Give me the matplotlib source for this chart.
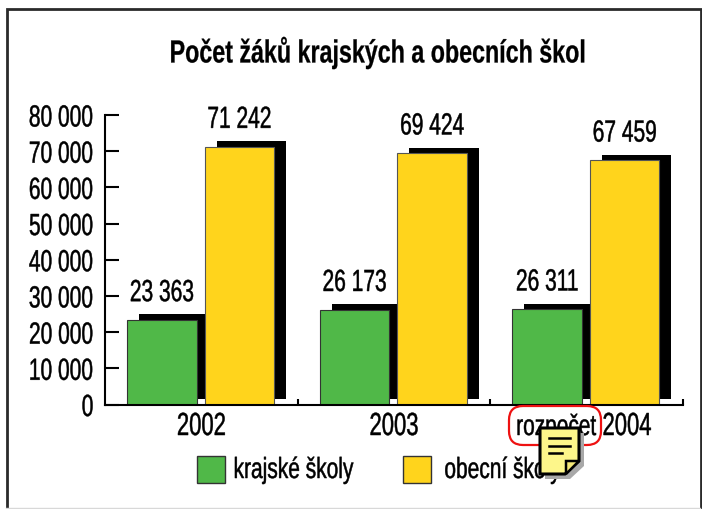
import matplotlib
matplotlib.use("Agg")
from matplotlib import pyplot as plt
from matplotlib.patches import FancyBboxPatch, Polygon, Rectangle
from matplotlib.patheffects import AbstractPathEffect
from matplotlib.transforms import Affine2D, ScaledTranslation

plt.rcParams['font.family'] = ['Liberation Sans', 'DejaVu Sans']

years = ["2002", "2003", "2004"]
kraje = [23363, 26173, 26311]
obce = [71242, 69424, 67459]
kraje_labels = ["23 363", "26 173", "26 311"]
obce_labels = ["71 242", "69 424", "67 459"]
y_ticks = [0, 10000, 20000, 30000, 40000, 50000, 60000, 70000, 80000]
y_labels = ["0", "10 000", "20 000", "30 000", "40 000", "50 000", "60 000", "70 000", "80 000"]

GREEN = "#50b848"
YELLOW = "#ffd41c"
W, H = 702, 509


# no condensed font installed, so squeeze the glyphs sideways when drawing
class Narrow(AbstractPathEffect):
    def __init__(self, sx, anchor="center", weight=0.35):
        super().__init__()
        self.sx = sx
        self.anchor = anchor
        self.weight = weight

    def draw_path(self, renderer, gc, tpath, affine, rgbFace=None):
        ext = tpath.get_extents()
        x0 = {"left": ext.x0, "center": (ext.x0 + ext.x1) / 2, "right": ext.x1}[self.anchor]
        squeeze = Affine2D().translate(-x0, 0).scale(self.sx, 1).translate(x0, 0)
        gc0 = renderer.new_gc()
        gc0.copy_properties(gc)
        gc0.set_foreground("black")
        gc0.set_linewidth(self.weight)
        renderer.draw_path(gc0, tpath, squeeze + affine, rgbFace)
        gc0.restore()


fig = plt.figure(figsize=(W / 100, H / 100), dpi=100, facecolor="white")

# overlay in pixel coords for the frame, note etc.
bg = fig.add_axes([0, 0, 1, 1], zorder=0)
bg.set_xlim(0, W)
bg.set_ylim(H, 0)
bg.axis("off")
bg.plot([6.5, 6.5, 700.5, 700.5], [509, 8.5, 8.5, 509], color="#2a2a2a", lw=2, solid_joinstyle="miter")
bg.plot([6, 700], [508, 508], color="#d8d8d8", lw=1)

ax = fig.add_axes([105 / W, 1 - 404.5 / H, 578 / W, 289.5 / H], zorder=1)
ax.patch.set_alpha(0)
ax.set_xlim(0, 3)
ax.set_ylim(0, 80000)

x1 = [i + 0.295 for i in range(3)]
x2 = [i + 0.697 for i in range(3)]
bw = 0.36

# black offset shadows behind the bars
shift = ax.transData + ScaledTranslation(8.6 / 72, 4 / 72, fig.dpi_scale_trans)
for x, v in zip(x1 + x2, kraje + obce):
    r = ax.bar(x, v, bw, color="black", zorder=1)[0]
    r.set_transform(shift)
    r.set_clip_on(False)

ax.bar(x1, kraje, bw, color=GREEN, edgecolor="#333333", lw=0.8, zorder=2)
ax.bar(x2, obce, bw, color=YELLOW, edgecolor="#555555", lw=0.8, zorder=2)

for x, v, s in zip(x1 + x2, kraje + obce, kraje_labels + obce_labels):
    t = ax.annotate(s, (x, v), xytext=(0, 8.5), textcoords="offset points", ha="center",
                    va="bottom", fontsize=22, color="black")
    t.set_path_effects([Narrow(0.686)])

for s in ["top", "right"]:
    ax.spines[s].set_visible(False)
ax.spines["left"].set_linewidth(1.5)
ax.spines["bottom"].set_linewidth(1.5)
ax.set_yticks(y_ticks)
ax.set_yticklabels(y_labels, fontsize=22)
for t in ax.get_yticklabels():
    t.set_path_effects([Narrow(0.686, "right")])
ax.tick_params(axis="y", direction="in", length=10, width=1.5, pad=8)
ax.set_xticks([1, 2, 3])
ax.set_xticklabels([])
ax.tick_params(axis="x", direction="in", length=4.3, width=1.5)

for cx, y in zip([201.5, 394, 627], years):
    t = bg.text(cx, 427, y, ha="center", va="center", fontsize=23)
    t.set_path_effects([Narrow(0.69)])
t = bg.text(556, 427, "rozpočet", ha="center", va="center", fontsize=21)
t.set_path_effects([Narrow(0.715)])

t = bg.text(378, 53, "Počet žáků krajských a obecních škol", ha="center", va="center",
            fontsize=23, fontweight="bold")
t.set_path_effects([Narrow(0.728, weight=0.2)])

# legend
bg.add_patch(Rectangle((197, 456), 28, 27, fc=GREEN, ec="#333333", lw=1))
t = bg.text(233, 470, "krajské školy", ha="left", va="center", fontsize=21)
t.set_path_effects([Narrow(0.718, "left")])
bg.add_patch(Rectangle((403, 456), 28, 27, fc=YELLOW, ec="#333333", lw=1))
t = bg.text(444, 470, "obecní školy", ha="left", va="center", fontsize=21)
t.set_path_effects([Narrow(0.718, "left")])

# red ring around "rozpočet"
top = fig.add_axes([0, 0, 1, 1], zorder=3)
top.set_xlim(0, W)
top.set_ylim(H, 0)
top.axis("off")
top.add_patch(FancyBboxPatch((509, 406), 92, 39, boxstyle="round,pad=0,rounding_size=14",
                             fc="none", ec="#ee1111", lw=1.6))
# the note icon
note = [(540, 428), (579, 428), (579, 461), (565, 474), (540, 474)]
top.add_patch(Polygon([(x + 5, y + 5) for x, y in note], fc="#a8a8a8", ec="none"))
top.add_patch(Polygon(note, fc="#fdf68a", ec="black", lw=2.2, joinstyle="miter"))
top.add_patch(Polygon([(566, 461), (579, 461), (566, 474)], fc="#f4e878", ec="black", lw=1.8))
for y0, x_end in [(438, 570), (446, 570), (453, 562)]:
    top.plot([549, x_end], [y0, y0], color="black", lw=1.8)

fig.savefig("out.png", dpi=100)
